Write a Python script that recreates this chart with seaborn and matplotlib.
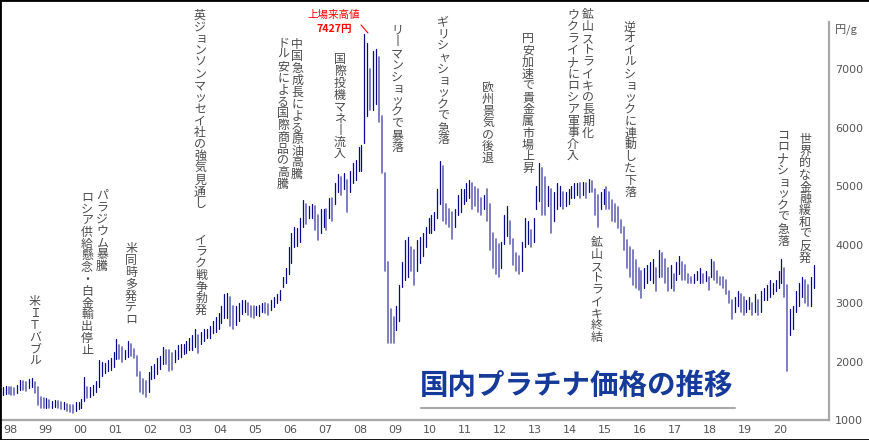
import numpy as np
import pandas as pd
import matplotlib
matplotlib.use("Agg")
import matplotlib.pyplot as plt
import seaborn as sns
from matplotlib.patches import Rectangle
from matplotlib.lines import Line2D

# ---------------- data (monthly high / low, yen per gram) ----------------
start_month = "1997-10"
high = [
    1570, 1580, 1560,                                                  # 1997 Oct-Dec
    1560, 1540, 1600, 1680, 1660, 1650, 1700, 1720, 1650, 1560, 1400, 1380,  # 1998
    1370, 1340, 1330, 1350, 1320, 1300, 1310, 1280, 1260, 1250, 1300, 1310,  # 1999
    1360, 1740, 1560, 1560, 1600, 1660, 2020, 2000, 1980, 2030, 2060, 2160,  # 2000
    2380, 2280, 2250, 2200, 2350, 2300, 2220, 2100, 1820, 1700, 1660, 1820,  # 2001
    1920, 1950, 2060, 2100, 2250, 2200, 2200, 2150, 2200, 2280, 2300, 2300,  # 2002
    2350, 2400, 2450, 2550, 2450, 2500, 2560, 2560, 2600, 2700, 2760, 2830,  # 2003
    2950, 3150, 3170, 3100, 2950, 2950, 3000, 3050, 3050, 3000, 2950, 2950,  # 2004
    2950, 2970, 3000, 3000, 2980, 3050, 3100, 3150, 3220, 3450, 3600, 3960,  # 2005
    4200, 4300, 4280, 4450, 4760, 4700, 4650, 4700, 4650, 4500, 4600, 4600,  # 2006
    4600, 4800, 4800, 5050, 5200, 5150, 5220, 5100, 5250, 5400, 5450, 5670,  # 2007
    5700, 7600, 7450, 7000, 7300, 7350, 7200, 6200, 5220, 3700, 2900, 2760,  # 2008
    2950, 3300, 3700, 4080, 4130, 3950, 3900, 4080, 4130, 4200, 4300, 4450,  # 2009
    4500, 4550, 4950, 5420, 5350, 4700, 4600, 4550, 4600, 4850, 4950, 4950,  # 2010
    5050, 5100, 5050, 4980, 4950, 4800, 4850, 4950, 4700, 4200, 4100, 4000,  # 2011
    4050, 4500, 4650, 4400, 4100, 3850, 3800, 4050, 4450, 4400, 4250, 4450,  # 2012
    5000, 5400, 5300, 5150, 5000, 4950, 4900, 5050, 5000, 4900, 4900, 4950,  # 2013
    5000, 5050, 5050, 5050, 5070, 5050, 5120, 5080, 4950, 4850, 4900, 4950,  # 2014
    4980, 4900, 4760, 4700, 4640, 4420, 4300, 4080, 3960, 3900, 3730, 3600,  # 2015
    3550, 3600, 3650, 3700, 3750, 3600, 3900, 3850, 3750, 3600, 3650, 3500,  # 2016
    3700, 3800, 3700, 3650, 3500, 3450, 3500, 3550, 3600, 3500, 3550, 3450,  # 2017
    3750, 3700, 3550, 3450, 3450, 3400, 3200, 3050, 3100, 3200, 3150, 3100,  # 2018
    3050, 3100, 3000, 3150, 3050, 3200, 3250, 3300, 3400, 3350, 3400, 3550,  # 2019
    3750, 3600, 3300, 2900, 2950, 3200, 3350, 3450, 3400, 3300, 3450, 3650,  # 2020
]
low = [
    1430, 1450, 1440,
    1420, 1430, 1460, 1520, 1510, 1500, 1540, 1560, 1470, 1250, 1210, 1200,
    1210, 1200, 1210, 1230, 1200, 1190, 1190, 1160, 1130, 1120, 1160, 1180,
    1200, 1330, 1380, 1400, 1420, 1480, 1560, 1760, 1800, 1830, 1850, 1900,
    2050, 2050, 2000, 2050, 2080, 2100, 2060, 1750, 1480, 1450, 1400, 1480,
    1700, 1720, 1780, 1880, 1950, 1950, 1830, 1850, 2000, 2050, 2080, 2120,
    2150, 2200, 2200, 2250, 2150, 2300, 2350, 2400, 2400, 2480, 2500, 2550,
    2650, 2750, 2750, 2600, 2560, 2620, 2700, 2820, 2850, 2800, 2760, 2750,
    2800, 2780, 2850, 2830, 2800, 2880, 2930, 3000, 3050, 3280, 3350, 3500,
    3680, 3950, 3980, 4050, 4300, 4350, 4450, 4450, 4250, 4080, 4200, 4300,
    4250, 4450, 4400, 4700, 4900, 4850, 4950, 4560, 4900, 5050, 5100, 5250,
    5250, 5730, 6200, 6300, 6300, 6400, 6100, 5220, 3550, 2310, 2320, 2320,
    2540, 2700, 3270, 3400, 3450, 3550, 3300, 3550, 3680, 3800, 3950, 4200,
    4200, 4250, 4450, 4700, 4400, 4350, 4300, 4100, 4300, 4500, 4550, 4700,
    4750, 4800, 4600, 4650, 4550, 4500, 4600, 4400, 3900, 3600, 3500, 3450,
    3600, 4000, 4150, 4000, 3650, 3550, 3500, 3550, 3950, 4000, 3950, 4050,
    4600, 4750, 4500, 4500, 4650, 4200, 4400, 4600, 4650, 4600, 4650, 4700,
    4800, 4800, 4850, 4800, 4850, 4800, 4900, 4900, 4500, 4300, 4600, 4700,
    4600, 4600, 4400, 4390, 4280, 4200, 3900, 3600, 3450, 3300, 3250, 3220,
    3090, 3250, 3350, 3400, 3350, 3200, 3450, 3450, 3350, 3200, 3250, 3200,
    3400, 3500, 3400, 3400, 3350, 3340, 3350, 3400, 3350, 3350, 3380, 3220,
    3450, 3400, 3350, 3300, 3250, 3150, 3000, 2720, 2850, 2950, 2850, 2800,
    2850, 2900, 2800, 2850, 2800, 2850, 3050, 3050, 3100, 3150, 3200, 3250,
    3350, 3100, 1830, 2450, 2550, 2850, 2950, 3100, 3000, 2950, 2950, 3250,
]
tick_years = list(range(1998, 2021))
tick_year_labels = [f"{y % 100:02d}" for y in tick_years]
y_ticks = [1000, 2000, 3000, 4000, 5000, 6000, 7000]
title = "国内プラチナ価格の推移"
unit_label = "円/g"
peak_label = ["上場来高値", "7427円"]

# annotations: (x px, top px, text) -- vertical Japanese writing
events = [
    (35, 296, "米ＩＴバブル"),
    (102, 190, "パラジウム暴騰"),
    (87, 191, "ロシア供給懸念・白金輸出停止"),
    (131, 243, "米同時多発テロ"),
    (200, 9, "英ジョンソンマッセイ社の強気見通し"),
    (201, 234, "イラク戦争勃発"),
    (297, 39, "中国急成長による原油高騰"),
    (283, 37, "ドル安による国際商品の高騰"),
    (340, 54, "国際投機マネー流入"),
    (397, 24, "リーマンショックで暴落"),
    (443, 16, "ギリシャショックで急落"),
    (488, 82, "欧州景気の後退"),
    (528, 33, "円安加速で貴金属市場上昇"),
    (573, 9, "ウクライナにロシア軍事介入"),
    (588, 9, "鉱山ストライキの長期化"),
    (630, 21, "逆オイルショックに連動した下落"),
    (597, 237, "鉱山ストライキ終結"),
    (783, 129, "コロナショックで急落"),
    (805, 134, "世界的な金融緩和で反発"),
]

# ---------------- build long-form table ----------------
dates = pd.date_range(start_month, periods=len(high), freq="MS")
t = dates.year + (dates.month - 0.5) / 12.0
mid = (np.array(high) + np.array(low)) / 2.0
direction = ["up"] + ["up" if mid[i] >= mid[i - 1] else "down" for i in range(1, len(mid))]
df = pd.DataFrame({
    "t": np.repeat(t, 2),
    "price": np.ravel(np.column_stack([low, high])),
    "unit": np.repeat(np.arange(len(high)), 2),
    "dir": np.repeat(direction, 2),
})

# ---------------- figure ----------------
sns.set_style("white")
plt.rcParams["font.family"] = ["DejaVu Sans", "Noto Sans CJK JP"]
W, H = 870, 440
fig = plt.figure(figsize=(W / 100, H / 100), dpi=100)
fig.patch.set_facecolor("white")

ax_left, ax_right, ax_top, ax_bottom = 0, 829, 22, 420
ax = fig.add_axes([ax_left / W, 1 - ax_bottom / H, (ax_right - ax_left) / W, (ax_bottom - ax_top) / H])
ax.set_facecolor("white")

dark, light = "#0a0a88", "#6a6ab6"
sns.lineplot(data=df, x="t", y="price", units="unit", estimator=None,
             hue="dir", palette={"up": dark, "down": light},
             size="dir", sizes={"up": 0.9, "down": 1.2},
             legend=False, ax=ax, sort=False)

ax.set_xlim(1997.714, 2021.4)
ax.set_ylim(1000, 1000 + (ax_bottom - ax_top) / 58.5 * 1000)
ax.set_xlabel("")
ax.set_ylabel("")
for s in ["left", "top"]:
    ax.spines[s].set_visible(False)
for s in ["right", "bottom"]:
    ax.spines[s].set_color("#a8a8a8")
    ax.spines[s].set_linewidth(1.6)
ax.yaxis.tick_right()
ax.set_yticks(y_ticks)
ax.set_yticklabels([str(v) for v in y_ticks])
ax.set_xticks(tick_years)
ax.set_xticklabels(tick_year_labels)
ax.tick_params(axis="y", length=0, pad=4.5, labelsize=8, labelcolor="#555555")
ax.tick_params(axis="x", length=0, pad=3.5, labelsize=8, labelcolor="#555555")
ax.grid(False)


def fx(px):
    return px / W


def fy(py):
    return 1 - py / H


jp = ["Noto Sans CJK JP", "DejaVu Sans"]
small_kana = set("ッョャュィァ")
pitch = 11.8
for x, top, text in events:
    for i, ch in enumerate(text):
        cy = top + (i + 0.5) * pitch
        cx = x
        if ch == "ー":
            ch = "丨"
        if ch in small_kana:
            cx += 1.0
        fig.text(fx(cx), fy(cy), ch, ha="center", va="center",
                 fontsize=8.6, color="#4a4a4a", family=jp)

# unit label
fig.text(fx(835), fy(30), unit_label, ha="left", va="center", fontsize=8,
         color="#555555", family=jp)

# peak label
fig.text(fx(334), fy(15), peak_label[0], ha="center", va="center", fontsize=7.6,
         color="#ff0000", family=jp)
fig.text(fx(334), fy(29), peak_label[1], ha="center", va="center", fontsize=7.6,
         color="#ff0000", family=jp, weight="bold")
fig.add_artist(Line2D([fx(361), fx(368)], [fy(25), fy(33)], transform=fig.transFigure,
                      color="#ff0000", lw=0.8))

# title + underline
fig.text(fx(577), fy(386), title, ha="center", va="center", fontsize=20.5,
         color="#163a9a", family=jp, weight="bold")
fig.add_artist(Line2D([fx(421), fx(735)], [fy(408), fy(408)], transform=fig.transFigure,
                      color="#a8a8a8", lw=1.5))

# outer frame
fig.add_artist(Rectangle((0, 0), 1, 1, transform=fig.transFigure, fill=False,
                         edgecolor="black", lw=2.0))

fig.savefig("out.png", dpi=100, facecolor="white")
